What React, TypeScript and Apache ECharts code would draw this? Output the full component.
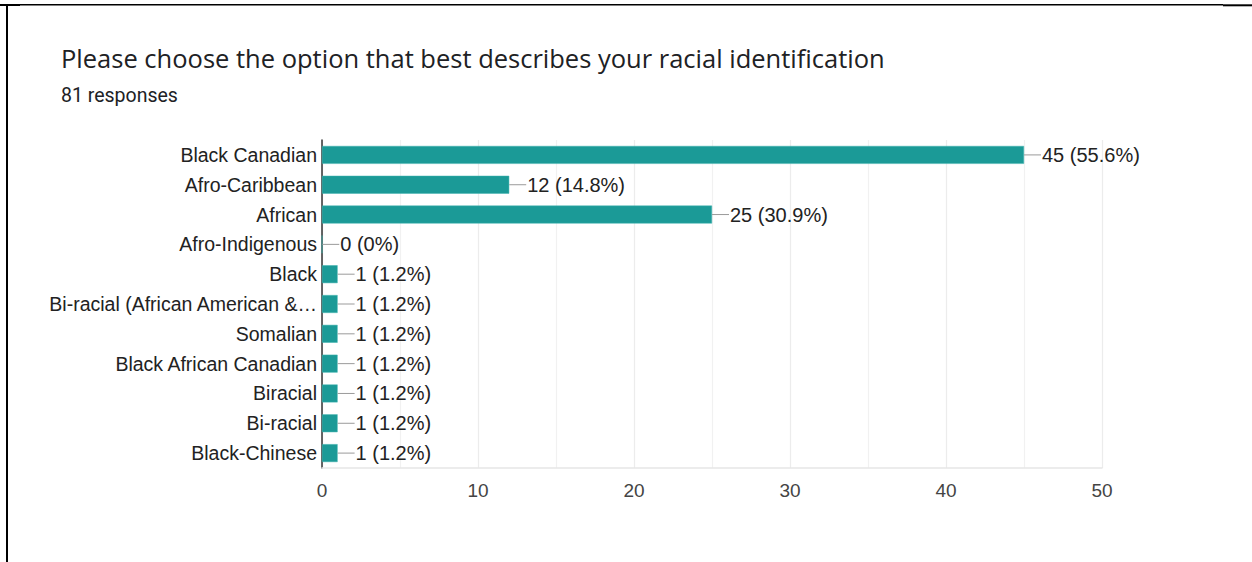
import React, { useEffect, useRef } from "react";
import * as echarts from "echarts";

const titleText = "Please choose the option that best describes your racial identification";
const subtitleText = "81 responses";

const categories = [
  "Black Canadian",
  "Afro-Caribbean",
  "African",
  "Afro-Indigenous",
  "Black",
  "Bi-racial (African American &…",
  "Somalian",
  "Black African Canadian",
  "Biracial",
  "Bi-racial",
  "Black-Chinese",
];
const counts = [45, 12, 25, 0, 1, 1, 1, 1, 1, 1, 1];
const percents = ["55.6%", "14.8%", "30.9%", "0%", "1.2%", "1.2%", "1.2%", "1.2%", "1.2%", "1.2%", "1.2%"];

const xMin = 0;
const xMax = 50;
const xInterval = 10;

export default function App() {
  const ref = useRef<HTMLDivElement>(null);
  useEffect(() => {
    if (!ref.current) return;
    const chart = echarts.init(ref.current, null, { renderer: "svg" });
    const font = "'Liberation Sans', Arial, sans-serif";
    chart.setOption({
      animation: false,
      backgroundColor: "#ffffff",
      grid: { left: 322, right: 150, top: 140, bottom: 94, containLabel: false },
      xAxis: {
        type: "value",
        min: xMin,
        max: xMax,
        interval: xInterval,
        axisLine: { show: true, lineStyle: { color: "#e6e6e6", width: 1.5 } },
        axisTick: { show: false },
        axisLabel: { color: "#444444", fontSize: 19, fontFamily: font, margin: 13 },
        splitLine: { show: true, lineStyle: { color: "#ececec", width: 1.2 } },
        minorTick: { show: false, splitNumber: 2 },
        minorSplitLine: { show: true, lineStyle: { color: "#f1f1f1", width: 1.2 } },
      },
      yAxis: {
        type: "category",
        data: categories,
        inverse: true,
        axisLine: { show: true, lineStyle: { color: "#333333", width: 1.5 } },
        axisTick: { show: false },
        axisLabel: { color: "#222222", fontSize: 19.5, fontFamily: font, margin: 5 },
        splitLine: { show: false },
      },
      series: [
        {
          type: "bar",
          data: counts,
          barCategoryGap: "40%",
          itemStyle: { color: "#1b9a97", borderColor: "#3fb3ae", borderWidth: 0.5 },
          label: {
            show: true,
            position: "right",
            distance: 0,
            formatter: (p: any) => `{l|\u2009}{t|${counts[p.dataIndex]} (${percents[p.dataIndex]})}`,
            rich: {
              l: { width: 17, height: 1, backgroundColor: "#9a9a9a", verticalAlign: "middle" },
              t: { color: "#222222", fontSize: 20, fontFamily: font, padding: [0, 0, 0, 1] },
            },
          },
        },
      ],
      graphic: [
        {
          type: "text",
          left: 61,
          top: 45,
          style: { text: titleText, fill: "#202124", font: "25.5px 'Open Sans', sans-serif" },
        },
        {
          type: "text",
          left: 61,
          top: 85,
          style: { text: subtitleText, fill: "#202124", font: "19.5px Roboto, sans-serif" },
        },
        { type: "line", shape: { x1: 0, y1: 4.7, x2: 1223, y2: 4.7 }, style: { stroke: "#000", lineWidth: 1.5 } },
        { type: "line", shape: { x1: 0, y1: 5, x2: 20, y2: 5 }, style: { stroke: "#000", lineWidth: 2 } },
        { type: "line", shape: { x1: 1223, y1: 5.3, x2: 1252, y2: 5.3 }, style: { stroke: "#000", lineWidth: 2 } },
        { type: "line", shape: { x1: 7, y1: 4, x2: 7, y2: 562 }, style: { stroke: "#000", lineWidth: 2 } },
      ],
    });
    return () => chart.dispose();
  }, []);
  return (
    <div
      ref={ref}
      style={{ position: "fixed", left: 0, top: 0, width: 1252, height: 562 }}
    />
  );
}
